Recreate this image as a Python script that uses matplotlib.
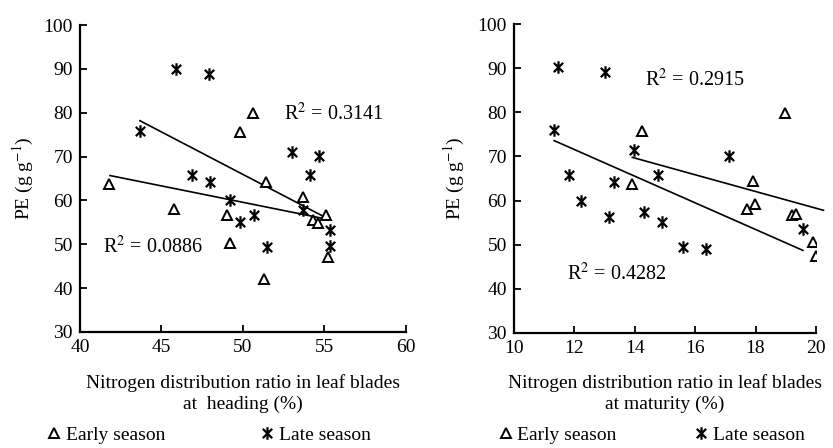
import numpy as np
import matplotlib
matplotlib.use("Agg")
import matplotlib.pyplot as plt
from matplotlib.path import Path

plt.rcParams["font.family"] = ["Liberation Serif", "DejaVu Serif"]
plt.rcParams["mathtext.fontset"] = "stix"
plt.rcParams["font.size"] = 14

# heading (left panel)
head_early_x = [41.8, 45.8, 49.0, 49.2, 49.8, 50.6, 51.4, 51.3, 53.7, 54.3, 54.6, 55.1, 55.25]
head_early_y = [63.7, 58.0, 56.7, 50.3, 75.5, 79.9, 64.3, 42.1, 60.7, 55.6, 54.8, 56.7, 47.2]
head_late_x  = [43.7, 45.9, 47.9, 46.9, 48.0, 49.2, 49.8, 50.7, 51.5, 53.0, 54.7, 54.1, 53.7, 55.35, 55.35]
head_late_y  = [75.9, 90.0, 88.8, 65.7, 64.2, 60.1, 55.0, 56.6, 49.3, 71.1, 70.2, 65.7, 57.9, 53.3, 49.7]

# maturity (right panel)
mat_early_x = [14.25, 13.92, 18.96, 17.9, 17.71, 17.97, 19.2, 19.34, 19.89, 20.0]
mat_early_y = [75.8, 63.8, 79.9, 64.5, 58.1, 59.3, 56.8, 56.9, 50.6, 47.5]
mat_late_x  = [11.33, 11.45, 13.0, 11.82, 12.21, 13.15, 13.31, 13.99, 14.29, 14.78, 14.9, 15.59, 16.35, 17.13, 19.57]
mat_late_y  = [76.0, 90.2, 89.1, 65.7, 60.0, 56.3, 64.2, 71.5, 57.4, 65.7, 55.1, 49.5, 49.0, 70.1, 53.6]

# trend lines: (x range, slope, intercept)
head_early_fit = ([41.84, 55.35], -0.748, 96.98)
head_late_fit  = ([43.68, 55.35], -1.937, 162.8)
mat_early_fit  = ([13.92, 20.25], -1.896, 96.19)
mat_late_fit   = ([11.33, 19.57], -3.022, 107.84)

r2_labels = {
    "head": ("R$^2$ = 0.3141", "R$^2$ = 0.0886"),
    "mat":  ("R$^2$ = 0.2915", "R$^2$ = 0.4282"),
}

# six-armed asterisk: X plus a vertical bar
star = Path([(0, -1), (0, 1), (-0.75, -0.75), (0.75, 0.75), (-0.75, 0.75), (0.75, -0.75)],
            [Path.MOVETO, Path.LINETO, Path.MOVETO, Path.LINETO, Path.MOVETO, Path.LINETO])


def draw_fit(ax, fit):
    xr, m, b = fit
    xs = np.array(xr)
    ax.plot(xs, m * xs + b, color="black", lw=1.2, clip_on=False, zorder=1)


def panel(ax, ex, ey, lx, ly, fit_e, fit_l, xlim, xstep, xlabel, txt_top, txt_bot):
    ax.plot(ex, ey, ls="none", marker="^", ms=7.5, mfc="white", mec="black", mew=1.4,
            label="Early season", zorder=3)
    ax.plot(lx, ly, ls="none", marker=star, ms=9, mec="black", mew=1.6,
            label="Late season", zorder=3)
    draw_fit(ax, fit_e)
    draw_fit(ax, fit_l)

    ax.set_xlim(*xlim)
    ax.set_ylim(30, 100)
    ax.set_xticks(np.arange(xlim[0], xlim[1] + 0.01, xstep))
    ax.set_yticks(np.arange(30, 101, 10))
    for s in ("top", "right"):
        ax.spines[s].set_visible(False)
    for s in ("left", "bottom"):
        ax.spines[s].set_linewidth(1.6)
    ax.tick_params(direction="in", length=5, width=1.3, labelsize=14, pad=5)
    ax.set_ylabel(r"PE (g g$^{-1}$)", fontsize=14)
    ax.set_xlabel(xlabel, fontsize=14, linespacing=1.3, va="top")

    ax.text(*txt_top, transform=ax.transAxes, fontsize=14.5)
    ax.text(*txt_bot, transform=ax.transAxes, fontsize=14.5)


fig = plt.figure(figsize=(8.33, 4.48), dpi=100)
ax1 = fig.add_axes([0.096, 0.259, 0.391, 0.685])
ax2 = fig.add_axes([0.617, 0.257, 0.3625, 0.689])

panel(ax1, head_early_x, head_early_y, head_late_x, head_late_y,
      head_early_fit, head_late_fit, (40, 60), 5,
      "Nitrogen distribution ratio in leaf blades\nat  heading (%)",
      (0.625, 0.69, r2_labels["head"][0]), (0.07, 0.257, r2_labels["head"][1]))
panel(ax2, mat_early_x, mat_early_y, mat_late_x, mat_late_y,
      mat_early_fit, mat_late_fit, (10, 20), 2,
      "Nitrogen distribution ratio in leaf blades\nat maturity (%)",
      (0.435, 0.80, r2_labels["mat"][0]), (0.175, 0.172, r2_labels["mat"][1]))

ax1.yaxis.set_label_coords(-0.135, 0.5)
ax2.yaxis.set_label_coords(-0.155, 0.5)
ax1.xaxis.set_label_coords(0.5, -0.136)
ax2.xaxis.set_label_coords(0.5, -0.133)

for ax, cx, cy, cs in ((ax1, 0.40, -0.335, 5.0), (ax2, 0.46, -0.33, 4.1)):
    ax.legend(loc="center", bbox_to_anchor=(cx, cy), ncol=2, frameon=False,
              handlelength=0.5, handletextpad=0.35, columnspacing=cs,
              fontsize=14, borderaxespad=0)

fig.savefig("out.png", dpi=100)
